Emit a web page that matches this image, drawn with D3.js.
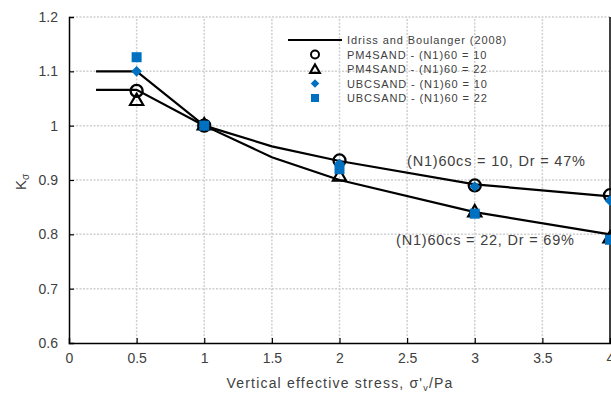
<!DOCTYPE html>
<html><head><meta charset="utf-8">
<script src="https://cdn.jsdelivr.net/npm/d3@7"></script>
<style>
body{margin:0;background:#fff;}
svg{display:block;font-family:"Liberation Sans",Arial,sans-serif;}
</style></head>
<body>
<svg id="c" width="611" height="394"></svg>
<script>
const xTicks=[0,0.5,1,1.5,2,2.5,3,3.5,4];
const yTicks=[0.6,0.7,0.8,0.9,1.0,1.1,1.2];
const ibStress=[0.2,0.5,1,1.5,2,3,4];
const ibDr47=[1.066,1.066,1.0,0.962,0.935,0.892,0.870];
const ibDr69=[1.1,1.1,1.0,0.942,0.900,0.841,0.800];
const ptStress=[0.5,1,2,3,4];
const pm10=[1.064,1.0,0.936,0.890,0.872];
const pm22=[1.045,1.0,0.906,0.840,0.792];
const ubc10=[1.100,1.0,0.930,0.888,0.862];
const ubc22=[1.126,1.0,0.920,0.838,0.790];
const legendLabels=["Idriss and Boulanger (2008)","PM4SAND - (N1)60 = 10","PM4SAND - (N1)60 = 22","UBCSAND - (N1)60 = 10","UBCSAND - (N1)60 = 22"];

const svg=d3.select("#c");
const x=d3.scaleLinear().domain([0,4]).range([69,610]);
const y=d3.scaleLinear().domain([0.6,1.2]).range([343,17]);
const blue="#0070c0";
const txt="#404040";

// gridlines
const g=svg.append("g");
g.selectAll(".hg").data(yTicks.slice(1)).enter().append("line")
 .attr("x1",x(0)).attr("x2",x(4)).attr("y1",d=>y(d)).attr("y2",d=>y(d))
 .attr("stroke","#d0d0d0").attr("stroke-width",1.5).attr("stroke-dasharray","2,1.5");
g.selectAll(".vg").data(xTicks.slice(1,-1)).enter().append("line")
 .attr("x1",d=>x(d)).attr("x2",d=>x(d)).attr("y1",y(0.6)).attr("y2",y(1.2))
 .attr("stroke","#d0d0d0").attr("stroke-width",1.5).attr("stroke-dasharray","2,1.5");
svg.append("line").attr("x1",x(4)).attr("x2",x(4)).attr("y1",y(0.6)).attr("y2",y(1.2)).attr("stroke","#000").attr("stroke-width",1.5);

// axes
const xa=svg.append("g").attr("transform",`translate(0,${y(0.6)})`)
 .call(d3.axisBottom(x).tickValues(xTicks).tickSize(-5).tickPadding(10).tickFormat(d=>d3.format("")(d)));
const ya=svg.append("g").attr("transform",`translate(${x(0)},0)`)
 .call(d3.axisLeft(y).tickValues(yTicks).tickSize(-5).tickPadding(11).tickFormat(d=>d===1?"1":d3.format(".1f")(d)));
[xa,ya].forEach(a=>{a.select(".domain").attr("stroke","#000").attr("stroke-width",1.5);
 a.selectAll(".tick line").attr("stroke","#000").attr("stroke-width",1.2);
 a.selectAll(".tick text").attr("font-size",14).attr("fill",txt).attr("font-family","Liberation Sans, Arial");});
ya.selectAll(".tick line").filter(d=>d===0.6||d===1.2).remove();
xa.selectAll(".tick line").filter(d=>d===0||d===4).remove();

// lines
const line=d3.line().x(d=>x(d[0])).y(d=>y(d[1]));
[ibDr47,ibDr69].forEach(s=>{
 svg.append("path").datum(ibStress.map((v,i)=>[v,s[i]])).attr("d",line)
  .attr("fill","none").attr("stroke","#000").attr("stroke-width",2.2);
});

// markers
function circle(sel,cx,cy,r,sw){sel.append("circle").attr("cx",cx).attr("cy",cy).attr("r",r).attr("fill","none").attr("stroke","#000").attr("stroke-width",sw||2.3);}
function triangle(sel,cx,cy,s){sel.append("path").attr("d",d3.symbol().type(d3.symbolTriangle).size(s)()).attr("transform",`translate(${cx},${cy})`).attr("fill","none").attr("stroke","#000").attr("stroke-width",2.2);}
function diamond(sel,cx,cy,w){sel.append("rect").attr("x",-w/2).attr("y",-w/2).attr("width",w).attr("height",w).attr("transform",`translate(${cx},${cy}) rotate(45)`).attr("fill",blue);}
function square(sel,cx,cy,w){sel.append("rect").attr("x",cx-w/2).attr("y",cy-w/2).attr("width",w).attr("height",w).attr("fill",blue);}
const m=svg.append("g");
ptStress.forEach((s,i)=>{circle(m,x(s),y(pm10[i]),6);});
ptStress.forEach((s,i)=>{triangle(m,x(s),y(pm22[i]),75);});
ptStress.forEach((s,i)=>{diamond(m,x(s),y(ubc10[i]),7.5);});
ptStress.forEach((s,i)=>{square(m,x(s),y(ubc22[i]),10);});

// annotations
svg.append("text").attr("x",407).attr("y",166).attr("font-size",14.5).attr("letter-spacing",0.8).attr("fill",txt).text("(N1)60cs = 10, Dr = 47%");
svg.append("text").attr("x",396).attr("y",245).attr("font-size",14.5).attr("letter-spacing",0.8).attr("fill",txt).text("(N1)60cs = 22, Dr = 69%");

// legend
const lg=svg.append("g");
const ly=[40,54.5,69,83.5,98];
lg.append("line").attr("x1",288).attr("x2",342).attr("y1",ly[0]).attr("y2",ly[0]).attr("stroke","#000").attr("stroke-width",2.2);
circle(lg,315,ly[1],4,2);
triangle(lg,315,ly[2]+1,40);
diamond(lg,315,ly[3],6);
square(lg,315,ly[4],8);
legendLabels.forEach((t,i)=>lg.append("text").attr("x",347).attr("y",ly[i]+4).attr("font-size",11).attr("letter-spacing",0.9).attr("fill",txt).text(t));

// axis titles
const yl=svg.append("text").attr("transform","translate(26,182) rotate(-90)").attr("text-anchor","middle").attr("font-size",15).attr("fill",txt);
yl.append("tspan").text("K");
yl.append("tspan").attr("font-size",10).attr("dy",3).text("σ");
const xl=svg.append("text").attr("x",340).attr("y",388).attr("text-anchor","middle").attr("font-size",14).attr("letter-spacing",1.2).attr("fill",txt);
xl.append("tspan").text("Vertical effective stress, σ'");
xl.append("tspan").attr("font-size",9).attr("dy",3).text("v");
xl.append("tspan").attr("dy",-3).text("/Pa");
</script>
</body></html>
